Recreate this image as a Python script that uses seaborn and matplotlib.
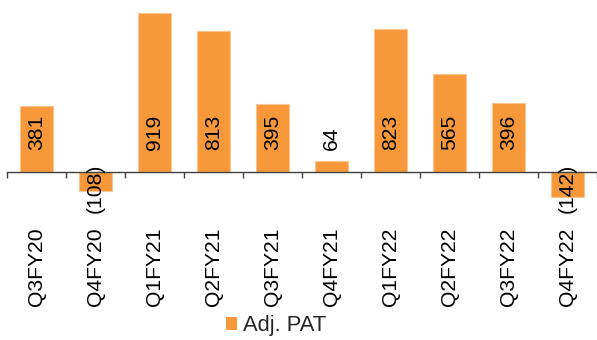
import matplotlib
matplotlib.use("Agg")
import matplotlib.pyplot as plt
import seaborn as sns
import pandas as pd
from matplotlib.patches import Patch
from matplotlib.ticker import FixedLocator

categories = ["Q3FY20", "Q4FY20", "Q1FY21", "Q2FY21", "Q3FY21",
              "Q4FY21", "Q1FY22", "Q2FY22", "Q3FY22", "Q4FY22"]
adj_pat = [381, -108, 919, 813, 395, 64, 823, 565, 396, -142]
series_name = "Adj. PAT"

BAR_COLOR = "#F7993A"
AXIS_COLOR = "#404040"
FS = 15.2

sns.set_theme(style="white")
plt.rcParams["font.family"] = ["Liberation Sans", "DejaVu Sans"]

df = pd.DataFrame({"Quarter": categories, "Value": adj_pat})

fig = plt.figure(figsize=(5.97, 3.40), dpi=100)
ax = fig.add_axes([7 / 597, 1 - 206.7 / 340, 590 / 597, (206.7 - 5.6) / 340])

sns.barplot(data=df, x="Quarter", y="Value", color=BAR_COLOR, width=0.57,
            saturation=1, edgecolor="#FBC591", linewidth=0.8, ax=ax)

ax.set_xlim(-0.5, len(categories) - 0.5)
ax.set_ylim(-200, 960)

for s in ["top", "right", "left"]:
    ax.spines[s].set_visible(False)
ax.spines["bottom"].set_position(("data", 0))
ax.spines["bottom"].set_color(AXIS_COLOR)
ax.spines["bottom"].set_linewidth(1.0)

ax.set_yticks([])
ax.set_xlabel("")
ax.set_ylabel("")

ax.xaxis.set_minor_locator(FixedLocator([i - 0.5 for i in range(len(categories) + 1)]))
ax.tick_params(axis="x", which="major", length=0, pad=40, labelsize=FS,
               labelcolor="black", labelrotation=90)
ax.tick_params(axis="x", which="minor", length=4.5, width=1.0, color=AXIS_COLOR,
               direction="out", bottom=True)

for i, v in enumerate(adj_pat):
    if v >= 0:
        ax.annotate(f"{v}", xy=(i, 0), xytext=(0, 15.5), textcoords="offset points",
                    rotation=90, ha="center", va="bottom", fontsize=FS, color="black")
    else:
        ax.annotate(f"({abs(v)})", xy=(i, 0), xytext=(0, 6), textcoords="offset points",
                    rotation=90, ha="center", va="top", fontsize=FS, color="black")

handle = Patch(facecolor=BAR_COLOR, edgecolor="none", label=series_name)
fig.legend(handles=[handle], loc="center", bbox_to_anchor=(276 / 597, 1 - 326 / 340),
           frameon=False, fontsize=FS + 0.6, handlelength=0.5, handleheight=0.5,
           handletextpad=0.3, borderpad=0, borderaxespad=0)

fig.savefig("out.png", dpi=100)
